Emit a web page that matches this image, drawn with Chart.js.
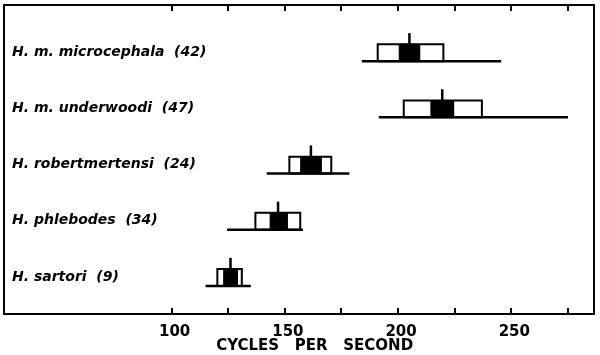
<!DOCTYPE html>
<html><head><meta charset="utf-8">
<script src="https://cdn.jsdelivr.net/npm/chart.js@4/dist/chart.umd.min.js"></script>
<style>html,body{margin:0;padding:0;background:#fff}#wrap{width:600px;height:355px}</style>
</head><body><div id="wrap"><canvas id="c" width="600" height="355"></canvas></div>
<script>
// ---- data ----
const species = ['H. m. microcephala', 'H. m. underwoodi', 'H. robertmertensi', 'H. phlebodes', 'H. sartori'];
const sampleSizes = [42, 47, 24, 34, 9];
const rangeMin = [184, 191.5, 142, 124.5, 115];
const rangeMax = [245.5, 275, 178.5, 158, 135];
const sdLow = [191, 202.5, 152, 137, 120.2];
const sdHigh = [220, 237, 170.5, 156.8, 131];
const seLow = [200.5, 214.5, 157, 143.5, 123];
const seHigh = [209.5, 224.5, 166, 151, 129];
const means = [205, 219.5, 161.5, 147, 126];
const xTickValues = [100, 125, 150, 175, 200, 225, 250, 275];
const xTickLabels = ['100', '', '150', '', '200', '', '250', ''];
const axisTitle = 'CYCLES PER SECOND';

// ---- geometry / style constants ----
const BOX_H = 0.3, MEAN_H = 0.5;
const INK = '#000';

const datasets = [];
species.forEach((s, i) => {
  datasets.push({ label: s + ' mean', order: 0,
    data: [{x: means[i], y: i}, {x: means[i], y: i - MEAN_H}],
    borderColor: INK, borderWidth: 2.5, pointRadius: 0, fill: false });
  datasets.push({ label: s + ' 2SE', order: 1,
    data: [{x: seLow[i], y: i}, {x: seLow[i], y: i - BOX_H}, {x: seHigh[i], y: i - BOX_H}, {x: seHigh[i], y: i}, {x: seLow[i], y: i}],
    borderColor: INK, backgroundColor: INK, borderWidth: 1, pointRadius: 0, fill: 'shape' });
  datasets.push({ label: s + ' SD', order: 2,
    data: [{x: sdLow[i], y: i}, {x: sdLow[i], y: i - BOX_H}, {x: sdHigh[i], y: i - BOX_H}, {x: sdHigh[i], y: i}, {x: sdLow[i], y: i}],
    borderColor: INK, borderWidth: 2, pointRadius: 0, fill: false, borderJoinStyle: 'miter' });
  datasets.push({ label: s + ' range', order: 3,
    data: [{x: rangeMin[i], y: i}, {x: rangeMax[i], y: i}],
    borderColor: INK, borderWidth: 2.5, pointRadius: 0, fill: false });
});

const xTicksFn = sc => { sc.ticks = xTickValues.map(v => ({value: v})); };
const zeroPad = sc => { sc.paddingLeft = 0; sc.paddingRight = 0; sc.paddingTop = 0; sc.paddingBottom = 0; };
// words of the axis title are set wide apart, and the title sits a little right of centre
const titleText = '      ' + axisTitle.split(' ').join('   ');

new Chart(document.getElementById('c'), {
  type: 'line',
  data: { datasets },
  options: {
    responsive: false,
    animation: false,
    layout: { padding: { left: 4, right: 0, top: 0, bottom: 0 } },
    plugins: { legend: { display: false }, tooltip: { enabled: false } },
    elements: { line: { tension: 0 } },
    scales: {
      x: {
        type: 'linear', position: 'bottom', min: 26, max: 286.5, bounds: 'data',
        afterBuildTicks: xTicksFn,
        afterFit: sc => { sc.height = 41; zeroPad(sc); },
        grid: { display: true, drawOnChartArea: false, drawTicks: true, tickLength: -6, color: INK, lineWidth: 2 },
        border: { display: true, color: INK, width: 2 },
        ticks: { autoSkip: false, maxRotation: 0, padding: 15, labelOffset: 3, color: INK,
          font: { family: 'DejaVu Sans', size: 15, weight: 'bold' },
          callback: v => { const k = xTickValues.indexOf(v); return k < 0 ? '' : xTickLabels[k]; } },
        title: { display: true, text: titleText, color: INK, font: { family: 'DejaVu Sans', size: 15, weight: 'bold' }, padding: { top: 0, bottom: 0 } }
      },
      xTop: {
        type: 'linear', position: 'top', min: 26, max: 286.5, bounds: 'data',
        afterBuildTicks: xTicksFn,
        afterFit: sc => { sc.height = 5; zeroPad(sc); },
        grid: { display: true, drawOnChartArea: false, drawTicks: true, tickLength: -6, color: INK, lineWidth: 2 },
        border: { display: true, color: INK, width: 2 },
        ticks: { display: false }
      },
      y: {
        type: 'linear', position: 'left', reverse: true, min: -1, max: 4.5, bounds: 'data',
        afterBuildTicks: sc => { sc.ticks = species.map((_, i) => ({value: i})); },
        afterFit: sc => { sc.width = 0; zeroPad(sc); },
        grid: { display: false, drawTicks: false },
        border: { display: true, color: INK, width: 2 },
        ticks: { mirror: true, padding: 8, labelOffset: -9, autoSkip: false, color: INK,
          font: { family: 'DejaVu Sans', size: 14, style: 'oblique', weight: 'bold' },
          callback: v => { const i = Math.round(v); return species[i] + '  (' + sampleSizes[i] + ')'; } }
      },
      yRight: {
        type: 'linear', position: 'right', min: -1, max: 4.5,
        afterFit: sc => { sc.width = 6; zeroPad(sc); },
        grid: { display: false, drawTicks: false },
        border: { display: true, color: INK, width: 2 },
        ticks: { display: false }
      }
    }
  }
});
</script></body></html>
